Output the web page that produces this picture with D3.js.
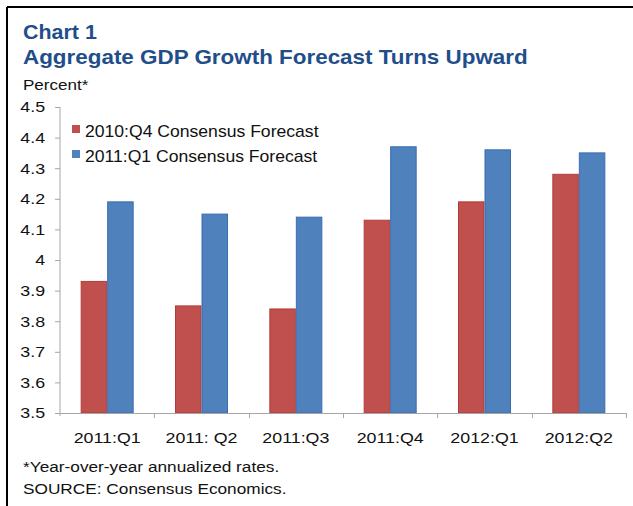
<!DOCTYPE html>
<html>
<head>
<meta charset="utf-8">
<script src="https://cdn.jsdelivr.net/npm/d3@7"></script>
<style>
  body { margin: 0; background: #fff; }
  text { font-family: Arial, "Liberation Sans", sans-serif; }
</style>
</head>
<body>
<svg id="chart1" width="633" height="506"></svg>
<script>

// data
var quarters = ["2011:Q1", "2011: Q2", "2011:Q3", "2011:Q4", "2012:Q1", "2012:Q2"];
var seriesNames = ["2010:Q4 Consensus Forecast", "2011:Q1 Consensus Forecast"];
var forecastQ4 = [3.93, 3.85, 3.84, 4.13, 4.19, 4.28];
var forecastQ1 = [4.19, 4.15, 4.14, 4.37, 4.36, 4.35];
var yTicks = [3.5, 3.6, 3.7, 3.8, 3.9, 4.0, 4.1, 4.2, 4.3, 4.4, 4.5];
var yTickLabels = ["3.5", "3.6", "3.7", "3.8", "3.9", "4", "4.1", "4.2", "4.3", "4.4", "4.5"];

var colours = ["#c0504d", "#4f81bd"];
var strokes = ["#b33c39", "#3a6db0"];
var stretch = 1.15; // the source text is a bit wide

var svg = d3.select("#chart1");

// frame, only top + left show
svg.append("line").attr("x1", 7).attr("x2", 633).attr("y1", 7).attr("y2", 7)
	.attr("stroke", "#000").attr("stroke-width", 2);
svg.append("line").attr("x1", 7).attr("x2", 7).attr("y1", 7).attr("y2", 506)
	.attr("stroke", "#000").attr("stroke-width", 2);

function stext(x, y, str, size, opts) {
	opts = opts || {};
	return svg.append("text")
		.attr("transform", "translate(" + x + "," + y + ") scale(" + (opts.sx || stretch) + ",1)")
		.attr("font-size", size)
		.attr("font-weight", opts.bold ? "bold" : "normal")
		.attr("fill", opts.fill || "#111")
		.attr("text-anchor", opts.anchor || "start")
		.text(str);
}

// titles
stext(23, 39, "Chart 1", 19.5, {bold: true, fill: "#1f4e8a", sx: 1.1});
stext(23, 64, "Aggregate GDP Growth Forecast Turns Upward", 19.5, {bold: true, fill: "#1f4e8a", sx: 1.15});
stext(23, 90, "Percent*", 15.5, {sx: 1.1});

// scales
var margin = {left: 60, right: 626, top: 107, bottom: 413};

var x = d3.scaleBand().domain(quarters).range([margin.left, margin.right]).paddingInner(0).paddingOuter(0);
var xSub = d3.scaleBand().domain(seriesNames).range([0, x.bandwidth()]).paddingInner(0).paddingOuter(0.78);
var y = d3.scaleLinear().domain([3.5, 4.5]).range([margin.bottom, margin.top]);

// y axis
var yAxis = d3.axisLeft(y).tickValues(yTicks).tickSize(5).tickPadding(8)
	.tickFormat(function(d, i) { return yTickLabels[i]; });

var gy = svg.append("g")
	.attr("class", "axis axis--y")
	.attr("transform", "translate(" + margin.left + ",0)")
	.call(yAxis);
gy.select(".domain").attr("stroke", "#a6a6a6").attr("d", "M0," + margin.top + "V" + (margin.bottom + 3));
gy.selectAll(".tick line").attr("stroke", "#a6a6a6");
gy.selectAll(".tick text")
	.attr("font-size", 15.5).attr("fill", "#111")
	.attr("font-family", "Arial, 'Liberation Sans', sans-serif")
	.attr("transform", "scale(" + stretch + ",1)");

// bars
var table = quarters.map(function(q, i) {
	return {q: q, vals: [forecastQ4[i], forecastQ1[i]]};
});

var groups = svg.append("g").selectAll("g")
	.data(table)
	.enter().append("g")
	.attr("transform", function(d) { return "translate(" + x(d.q) + ",0)"; });

groups.selectAll("rect")
	.data(function(d) { return d.vals.map(function(v, k) { return {s: seriesNames[k], v: v, k: k}; }); })
	.enter().append("rect")
	.attr("x", function(d) { return xSub(d.s) + 0.5; })
	.attr("width", xSub.bandwidth() - 1)
	.attr("y", function(d) { return y(d.v); })
	.attr("height", function(d) { return y(3.5) - y(d.v); })
	.attr("fill", function(d) { return colours[d.k]; })
	.attr("stroke", function(d) { return strokes[d.k]; })
	.attr("stroke-width", 1);

// x axis: line, boundary ticks, labels
var gx = svg.append("g").attr("class", "axis axis--x");
gx.append("line")
	.attr("x1", margin.left).attr("x2", margin.right)
	.attr("y1", margin.bottom + 0.5).attr("y2", margin.bottom + 0.5)
	.attr("stroke", "#a6a6a6");
gx.selectAll(".bound")
	.data(quarters)
	.enter().append("line")
	.attr("class", "bound")
	.attr("x1", function(d) { return Math.round(x(d) + x.bandwidth()) + 0.5; })
	.attr("x2", function(d) { return Math.round(x(d) + x.bandwidth()) + 0.5; })
	.attr("y1", margin.bottom).attr("y2", margin.bottom + 5)
	.attr("stroke", "#a6a6a6");

quarters.forEach(function(q) {
	stext(x(q) + x.bandwidth() / 2, 443, q, 15.5, {anchor: "middle"});
});

// legend
seriesNames.forEach(function(s, i) {
	var ly = 125 + i * 25;
	svg.append("rect")
		.attr("x", 72).attr("y", ly)
		.attr("width", 8).attr("height", 8)
		.attr("fill", colours[i]);
	stext(85, ly + 12, s, 16, {sx: 1.1});
});

// notes
stext(23, 472, "*Year-over-year annualized rates.", 15);
stext(23, 494, "SOURCE: Consensus Economics.", 15);

</script>
</body>
</html>
